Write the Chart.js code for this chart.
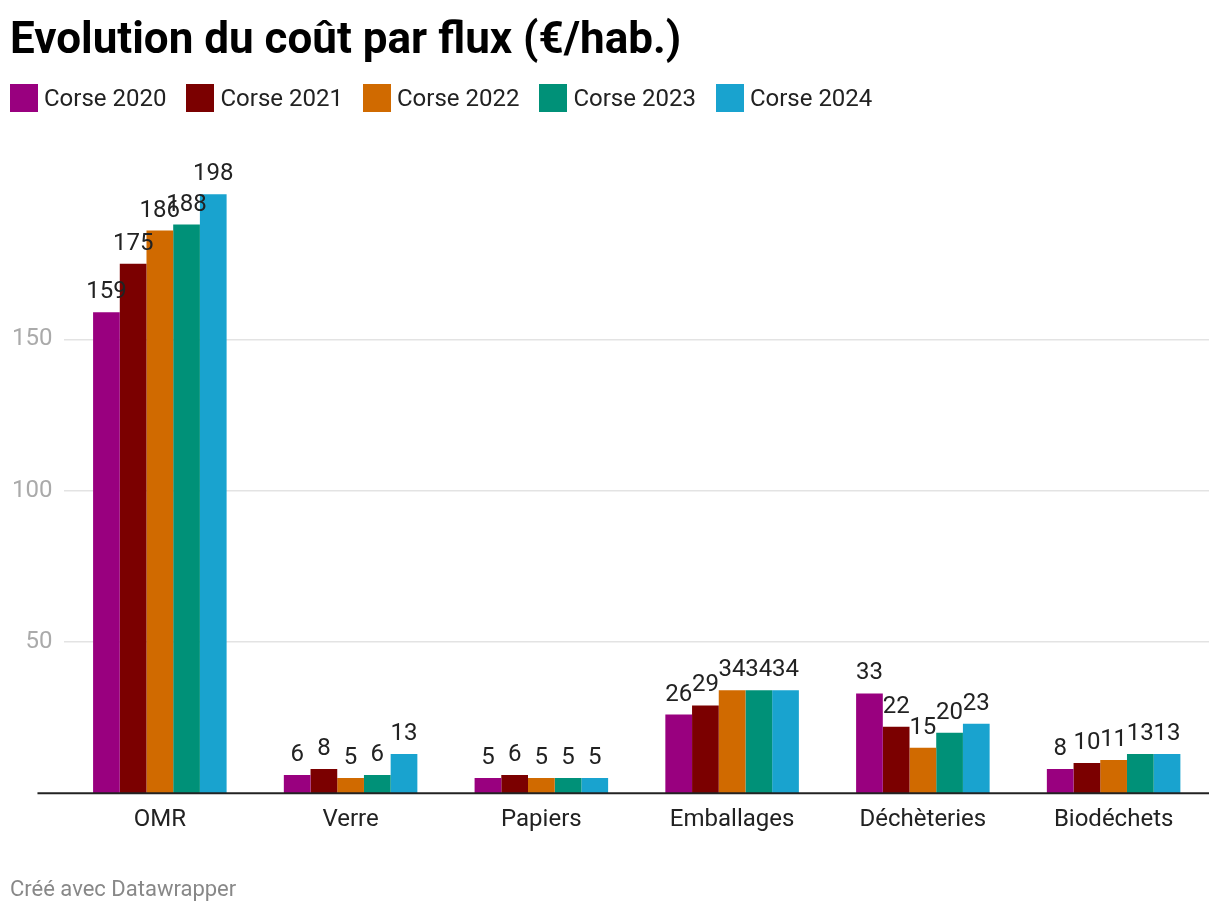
<!DOCTYPE html>
<html lang="fr">
  <head>
    <meta charset="UTF-8" />
    <title>Evolution du coût par flux</title>
    <script src="https://cdn.jsdelivr.net/npm/chart.js"></script>
    <style>
      body {
        margin: 0;
        padding: 0;
        background: #ffffff;
        font-family: Roboto, sans-serif;
      }
      .page {
        width: 1220px;
        height: 914px;
        position: relative;
      }
      .chart-box {
        position: absolute;
        left: 0;
        top: 0;
        width: 1220px;
        height: 914px;
      }
      .titre {
        position: absolute;
        left: 10px;
        top: 12px;
        margin: 0;
        font-size: 44px;
        font-weight: bold;
        color: #000;
        line-height: 52px;
      }
      .legende {
        position: absolute;
        left: 10px;
        top: 84px;
        display: flex;
        gap: 20px;
      }
      .legende .item {
        display: flex;
        align-items: center;
        font-size: 24px;
        color: #222;
        line-height: 28px;
      }
      .legende .carre {
        width: 28px;
        height: 28px;
        margin-right: 6px;
      }
      .credit {
        position: absolute;
        left: 10px;
        top: 876px;
        font-size: 22px;
        color: #888;
      }
    </style>
  </head>
  <body>
    <div class="page">
      <div class="chart-box">
        <canvas id="chartFlux"></canvas>
      </div>
      <h1 class="titre">Evolution du coût par flux (€/hab.)</h1>
      <div class="legende" id="legende"></div>
      <div class="credit">Créé avec Datawrapper</div>
    </div>

    <script>
      // données
      const categories = ["OMR", "Verre", "Papiers", "Emballages", "Déchèteries", "Biodéchets"];
      const corse2020 = [159, 6, 5, 26, 33, 8];
      const corse2021 = [175, 8, 6, 29, 22, 10];
      const corse2022 = [186, 5, 5, 34, 15, 11];
      const corse2023 = [188, 6, 5, 34, 20, 13];
      const corse2024 = [198, 13, 5, 34, 23, 13];
      const seriesNames = ["Corse 2020", "Corse 2021", "Corse 2022", "Corse 2023", "Corse 2024"];
      const yTicks = [50, 100, 150];

      const colors = ["#99007f", "#7b0000", "#d06a00", "#009178", "#19a3cf"];
      const allSeries = [corse2020, corse2021, corse2022, corse2023, corse2024];

      // légende en HTML
      const legende = document.getElementById("legende");
      seriesNames.forEach((nom, i) => {
        const item = document.createElement("div");
        item.className = "item";
        item.innerHTML = '<span class="carre" style="background:' + colors[i] + '"></span>' + nom;
        legende.appendChild(item);
      });

      // étiquettes de valeur + ligne de base
      const valueLabels = {
        id: "valueLabels",
        afterDatasetsDraw(chart) {
          const ctx = chart.ctx;
          const area = chart.chartArea;
          const y0 = chart.scales.y.getPixelForValue(0);
          ctx.save();
          ctx.strokeStyle = "#222";
          ctx.lineWidth = 2;
          ctx.beginPath();
          ctx.moveTo(area.left - 27, y0);
          ctx.lineTo(area.right, y0);
          ctx.stroke();

          ctx.font = "24px Roboto";
          ctx.fillStyle = "#222";
          ctx.textAlign = "center";
          ctx.textBaseline = "alphabetic";
          chart.data.datasets.forEach((ds, i) => {
            chart.getDatasetMeta(i).data.forEach((bar, j) => {
              ctx.fillText(ds.data[j], bar.x, bar.y - 14);
            });
          });
          ctx.restore();
        },
      };

      new Chart(document.getElementById("chartFlux"), {
        type: "bar",
        data: {
          labels: categories,
          datasets: allSeries.map((vals, i) => ({
            label: seriesNames[i],
            data: vals,
            backgroundColor: colors[i],
            categoryPercentage: 0.7,
            barPercentage: 1.0,
          })),
        },
        options: {
          responsive: true,
          maintainAspectRatio: false,
          animation: false,
          layout: {
            padding: { left: 0, right: 11, top: 158, bottom: 76 },
          },
          plugins: {
            legend: { display: false },
            tooltip: { enabled: false },
          },
          scales: {
            x: {
              grid: { display: false },
              border: { display: false },
              ticks: {
                color: "#222",
                font: { family: "Roboto", size: 24 },
                padding: 4,
              },
            },
            y: {
              min: 0,
              max: 210,
              afterBuildTicks(axis) {
                axis.ticks = yTicks.map((v) => ({ value: v }));
              },
              grid: { color: "#e3e3e3", drawTicks: false, lineWidth: 1.5 },
              border: { display: false },
              ticks: {
                color: "#aaa",
                font: { family: "Roboto", size: 24 },
                padding: 12,
              },
            },
          },
        },
        plugins: [valueLabels],
      });
    </script>
  </body>
</html>
